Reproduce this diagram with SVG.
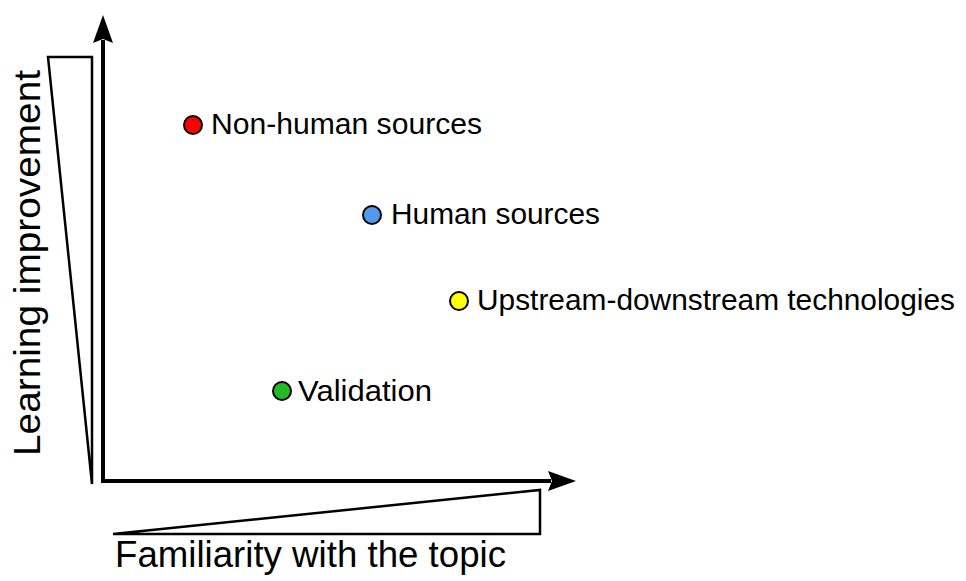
<svg xmlns="http://www.w3.org/2000/svg" width="966" height="581" viewBox="0 0 966 581">
  <style>
    .lbl { font-family: "Liberation Sans", Arial, sans-serif; fill: #000; }
    .pt { font-size: 29px; }
    .ax { font-size: 37px; }
    .dot { stroke: #000; stroke-width: 2; }
    .wedge { fill: #fff; stroke: #000; stroke-width: 2.5; stroke-linejoin: miter; }
    .axis { fill: none; stroke: #000; stroke-width: 4; stroke-linejoin: miter; }
  </style>
  <defs>
    <marker id="arrow" markerUnits="userSpaceOnUse" viewBox="0 0 28 20" refX="3" refY="10" markerWidth="28" markerHeight="20" orient="auto-start-reverse">
      <path d="M0,0 L28,10 L0,20 L4,10 z" fill="#000"/>
    </marker>
  </defs>
  <rect width="966" height="581" fill="#fff"/>

  <g id="connectors">
    <path class="axis" d="M103,40 V481 H551" marker-start="url(#arrow)" marker-end="url(#arrow)"/>
  </g>

  <g id="wedge-vertical">
    <polygon class="wedge" points="48,57 92,57 92,484"/>
  </g>
  <g id="wedge-horizontal">
    <polygon class="wedge" points="113,534 540,490 540,534"/>
  </g>

  <g id="axis-label-y">
    <text class="lbl ax" x="0" y="0" transform="translate(40 456) rotate(-90)" textLength="386" lengthAdjust="spacingAndGlyphs">Learning improvement</text>
  </g>
  <g id="axis-label-x">
    <text class="lbl ax" x="115" y="567" textLength="391" lengthAdjust="spacingAndGlyphs">Familiarity with the topic</text>
  </g>

  <g id="non-human-sources">
    <circle class="dot" cx="193" cy="125" r="9" fill="#ff0000"/>
    <text class="lbl pt" x="211" y="134" textLength="271" lengthAdjust="spacingAndGlyphs">Non-human sources</text>
  </g>
  <g id="human-sources">
    <circle class="dot" cx="372" cy="215" r="9" fill="#5599ee"/>
    <text class="lbl pt" x="391" y="224" textLength="209" lengthAdjust="spacingAndGlyphs">Human sources</text>
  </g>
  <g id="upstream-downstream">
    <circle class="dot" cx="459" cy="301" r="9" fill="#ffff00"/>
    <text class="lbl pt" x="477" y="310" textLength="478" lengthAdjust="spacingAndGlyphs">Upstream-downstream technologies</text>
  </g>
  <g id="validation">
    <circle class="dot" cx="282" cy="391" r="9" fill="#22bb22"/>
    <text class="lbl pt" x="298" y="401" textLength="134" lengthAdjust="spacingAndGlyphs">Validation</text>
  </g>
</svg>
